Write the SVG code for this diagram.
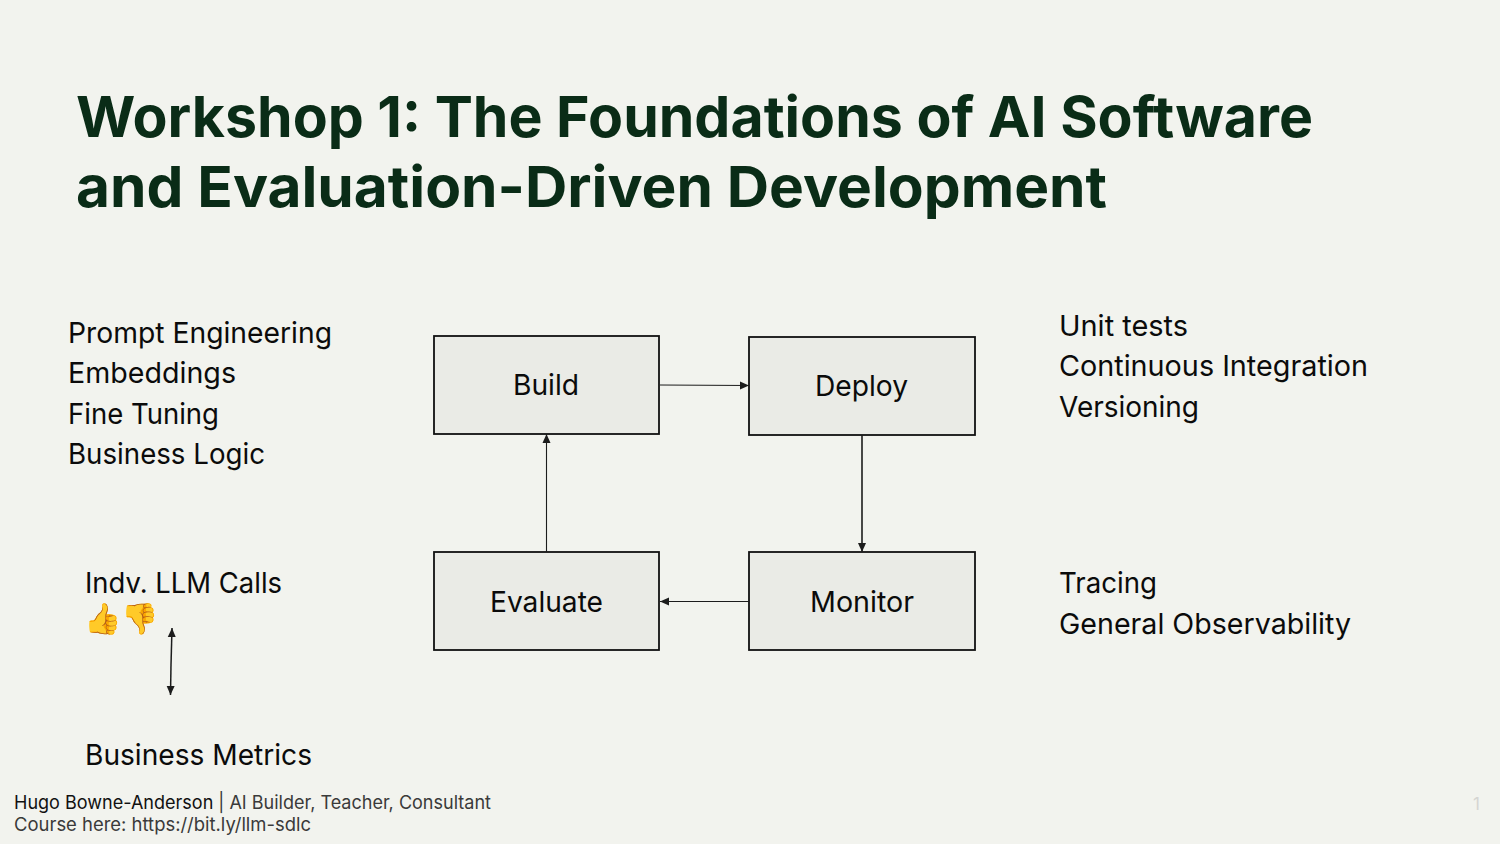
<svg xmlns="http://www.w3.org/2000/svg" width="1500" height="844" viewBox="0 0 1500 844">
<defs><marker id="a" markerUnits="userSpaceOnUse" markerWidth="9" markerHeight="9" refX="9" refY="4.500" orient="auto"><path d="M0 0.500L9 4.500L0 8.500Z" fill="#1c1c1c"/></marker></defs>
<style>
.t{font-family:"Inter","Noto Sans",sans-serif;font-size:29px;fill:#0b0b0b}
.h{font-family:"Inter","Noto Sans",sans-serif;font-size:57px;font-weight:700;fill:#0a2c17}
.f{font-family:"Inter","Noto Sans",sans-serif;font-size:18.500px;fill:#3a3a3a}
.b{fill:#eaebe6;stroke:#111;stroke-width:1.800}
.c{stroke:#1c1c1c;stroke-width:1.100;fill:none;marker-end:url(#a)}
</style>
<rect width="1500" height="844" fill="#f2f3ee"/>
<text class="h" x="76" y="136.500" textLength="1237" lengthAdjust="spacingAndGlyphs">Workshop 1: The Foundations of AI Software</text>
<text class="h" x="76" y="206.500" textLength="1031" lengthAdjust="spacingAndGlyphs">and Evaluation-Driven Development</text>
<text class="t" x="68" y="343" textLength="264" lengthAdjust="spacingAndGlyphs">Prompt Engineering</text>
<text class="t" x="68" y="383" textLength="168" lengthAdjust="spacingAndGlyphs">Embeddings</text>
<text class="t" x="68" y="424" textLength="151" lengthAdjust="spacingAndGlyphs">Fine Tuning</text>
<text class="t" x="68" y="464" textLength="197" lengthAdjust="spacingAndGlyphs">Business Logic</text>
<text class="t" x="85" y="593" textLength="197" lengthAdjust="spacingAndGlyphs">Indv. LLM Calls</text>
<text class="t" x="85" y="765" textLength="227" lengthAdjust="spacingAndGlyphs">Business Metrics</text>
<text class="t" x="1059" y="336" textLength="129" lengthAdjust="spacingAndGlyphs">Unit tests</text>
<text class="t" x="1059" y="376" textLength="309" lengthAdjust="spacingAndGlyphs">Continuous Integration</text>
<text class="t" x="1059" y="417" textLength="140" lengthAdjust="spacingAndGlyphs">Versioning</text>
<text class="t" x="1059" y="593" textLength="98" lengthAdjust="spacingAndGlyphs">Tracing</text>
<text class="t" x="1059" y="634" textLength="292" lengthAdjust="spacingAndGlyphs">General Observability</text>
<text x="84" y="628.500" style="font-family:'Noto Sans CJK SC',sans-serif;font-size:30px">👍👎</text>
<g id="build"><rect class="b" x="434" y="336" width="225" height="98"/><text class="t" x="513" y="395" textLength="66" lengthAdjust="spacingAndGlyphs">Build</text></g>
<g id="deploy"><rect class="b" x="749" y="337" width="226" height="98"/><text class="t" x="815" y="396" textLength="93" lengthAdjust="spacingAndGlyphs">Deploy</text></g>
<g id="evaluate"><rect class="b" x="434" y="552" width="225" height="98"/><text class="t" x="490" y="612" textLength="113" lengthAdjust="spacingAndGlyphs">Evaluate</text></g>
<g id="monitor"><rect class="b" x="749" y="552" width="226" height="98"/><text class="t" x="810" y="612" textLength="104" lengthAdjust="spacingAndGlyphs">Monitor</text></g>
<g id="connectors">
<path class="c" d="M660 385L749 385.500"/><path class="c" d="M862 435V552" style="stroke-width:1.600"/><path class="c" d="M749 601.500H660"/><path class="c" d="M546.500 552V434"/>
<path class="c" d="M171 665L172 628" style="stroke-width:1.500"/><path class="c" d="M171 665L170.500 695" style="stroke-width:1.500"/>
</g>
<text class="f" x="14" y="809" textLength="477" lengthAdjust="spacingAndGlyphs"><tspan fill="#111">Hugo Bowne-Anderson</tspan> | AI Builder, Teacher, Consultant</text>
<text class="f" x="14" y="831" textLength="297" lengthAdjust="spacingAndGlyphs">Course here: https://bit.ly/llm-sdlc</text>
<text x="1473" y="810" style="font-family:'Inter',sans-serif;font-size:17px;fill:#d5d5d2">1</text>
</svg>
